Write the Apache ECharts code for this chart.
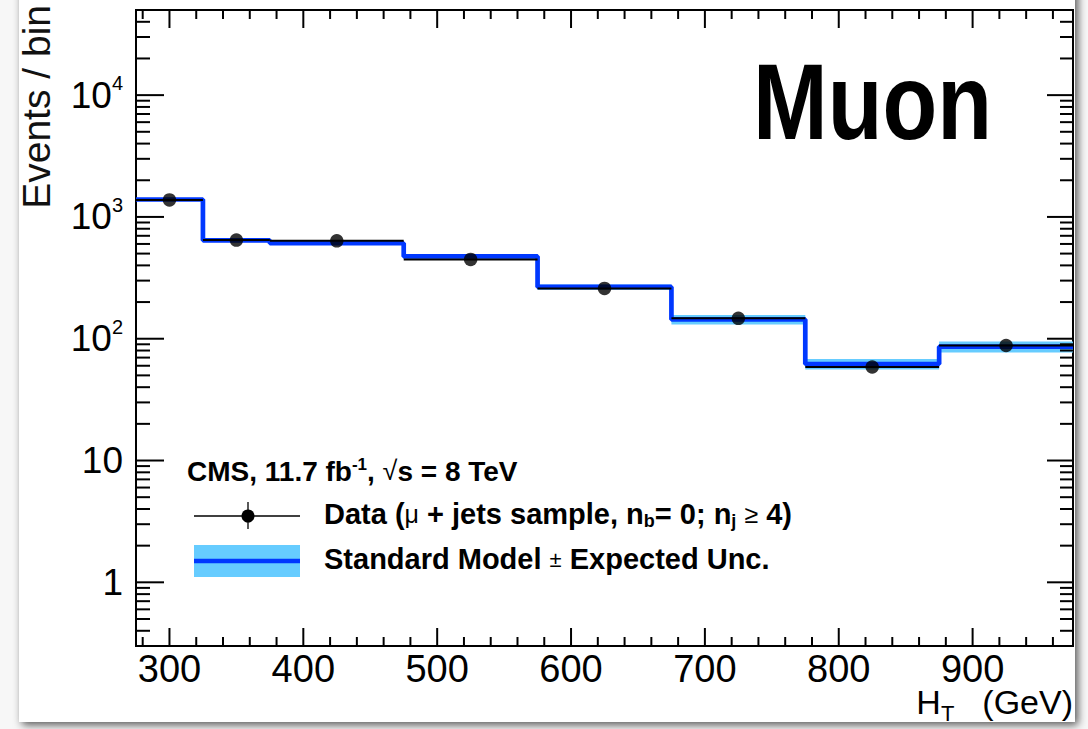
<!DOCTYPE html>
<html>
<head>
<meta charset="utf-8">
<script src="https://cdn.jsdelivr.net/npm/echarts@6/dist/echarts.min.js"></script>
<style>
  html, body { margin: 0; padding: 0; background: #f7f7f7; }
  #chart { width: 1088px; height: 729px; }
</style>
</head>
<body>
<div id="chart"></div>
<script>
// H_T bin edges (GeV) and bin centres
const binEdges = [275, 325, 375, 475, 575, 675, 775, 875, 975];
const binCenters = [300, 350, 425, 525, 625, 725, 825, 925];
// observed events per bin (mu + jets sample, n_b = 0, n_j >= 4)
const dataEvents = [1380, 645, 637, 448, 259, 147, 58.6, 88];
// Standard Model expectation per bin
const smExpected = [1390, 642, 608, 474, 266, 144, 62, 86];
// relative expected uncertainty per bin
const smRelUnc = [0.03, 0.03, 0.03, 0.04, 0.05, 0.09, 0.10, 0.105];
// axis tick labels
const xTickValues = [300, 400, 500, 600, 700, 800, 900];
const yTickValues = [1, 10, 100, 1000, 10000];
const yTickLabels = ['1', '10', '10{sup|2}', '10{sup|3}', '10{sup|4}'];

const X_MIN = 275, X_MAX = 975;
const Y_MIN = 0.3, Y_MAX = 50000;
const FONT = '"Liberation Sans", Arial, Helvetica, sans-serif';
const BLUE = '#0038ff';
const BAND = '#66ccff';

// tick positions on both axes (ticks are mirrored on the opposite sides)
const xMinor = [];
for (let v = 280; v <= 960; v += 20) if (v % 100 !== 0) xMinor.push(v);
const yMinor = [];
[0.1, 1, 10, 100, 1000, 10000].forEach(d => {
  for (let k = 2; k <= 9; k++) {
    const v = k * d;
    if (v > Y_MIN * 1.0001 && v < Y_MAX * 0.9999) yMinor.push(v);
  }
});

const chart = echarts.init(document.getElementById('chart'), null, { renderer: 'svg' });

function seg(x1, y1, x2, y2, w) {
  return { type: 'line', shape: { x1, y1, x2, y2 }, style: { stroke: '#000', lineWidth: w || 2 } };
}

const option = {
  backgroundColor: '#f7f7f7',
  animation: false,
  grid: {
    left: 136, top: 10, width: 937, height: 636,
    show: true, borderColor: '#000', borderWidth: 2, backgroundColor: 'transparent'
  },
  xAxis: {
    type: 'value', min: X_MIN, max: X_MAX, interval: 25,
    axisLine: { show: false }, axisTick: { show: false }, splitLine: { show: false },
    axisLabel: {
      margin: 9, fontSize: 38, lineHeight: 28, color: '#000', fontFamily: FONT,
      formatter: v => (xTickValues.indexOf(Math.round(v)) >= 0 ? String(Math.round(v)) : '')
    }
  },
  yAxis: {
    type: 'log', logBase: 10, min: Y_MIN, max: Y_MAX,
    axisLine: { show: false }, axisTick: { show: false }, splitLine: { show: false },
    axisLabel: {
      margin: 13, fontSize: 37, lineHeight: 44, color: '#000', fontFamily: FONT,
      showMinLabel: false, showMaxLabel: false,
      formatter: v => {
        const i = yTickValues.findIndex(t => Math.abs(t - v) < 1e-6 * t);
        return i < 0 ? '' : yTickLabels[i];
      },
      rich: {
        sup: { fontSize: 20, lineHeight: 18, verticalAlign: 'top', color: '#000', fontFamily: FONT }
      }
    }
  },
  series: [
    {
      // expected-uncertainty band per bin
      type: 'custom', name: 'band', z: 2, silent: true,
      data: binCenters.map((c, i) => [binEdges[i], binEdges[i + 1], smExpected[i], smRelUnc[i]]),
      encode: { x: [0, 1], y: 2 },
      renderItem(params, api) {
        const lo = api.value(0), hi = api.value(1), c = api.value(2), u = api.value(3);
        const p1 = api.coord([lo, c * (1 + u)]);
        const p2 = api.coord([hi, c * (1 - u)]);
        return {
          type: 'rect',
          shape: { x: p1[0], y: p1[1], width: p2[0] - p1[0], height: p2[1] - p1[1] },
          style: { fill: BAND }
        };
      }
    },
    {
      // Standard Model histogram
      type: 'line', name: 'Standard Model', z: 3, silent: true,
      step: 'end', showSymbol: false, symbol: 'none',
      data: binEdges.map((e, i) => [e, smExpected[Math.min(i, smExpected.length - 1)]]),
      lineStyle: { color: BLUE, width: 4.7 }
    },
    {
      // data: horizontal bars spanning each bin
      type: 'custom', name: 'data-xerr', z: 4, silent: true,
      data: binCenters.map((c, i) => [binEdges[i], binEdges[i + 1], dataEvents[i]]),
      encode: { x: [0, 1], y: 2 },
      renderItem(params, api) {
        const p1 = api.coord([api.value(0), api.value(2)]);
        const p2 = api.coord([api.value(1), api.value(2)]);
        return seg(p1[0], p1[1], p2[0], p2[1], 2);
      }
    },
    {
      type: 'scatter', name: 'Data', z: 6, silent: true,
      symbol: 'circle', symbolSize: 13.5,
      itemStyle: { color: '#000' },
      data: binCenters.map((c, i) => [c, dataEvents[i]])
    },
    {
      // axis ticks on all four sides of the frame
      type: 'custom', name: 'ticks', z: 7, silent: true, clip: false,
      data: [[X_MIN, 1]],
      renderItem(params, api) {
        const kids = [];
        const yBot = api.coord([X_MIN, Y_MIN])[1];
        const yTop = api.coord([X_MIN, Y_MAX])[1];
        const xL = api.coord([X_MIN, 1])[0];
        const xR = api.coord([X_MAX, 1])[0];
        const xt = (v, len) => {
          const x = api.coord([v, 1])[0];
          kids.push(seg(x, yBot, x, yBot - len), seg(x, yTop, x, yTop + len));
        };
        const yt = (v, lenL, lenR) => {
          const y = api.coord([X_MIN, v])[1];
          kids.push(seg(xL, y, xL + lenL, y), seg(xR, y, xR - lenR, y));
        };
        xTickValues.forEach(v => xt(v, 18));
        xMinor.forEach(v => xt(v, 9));
        yTickValues.forEach(v => yt(v, 28, 26));
        yMinor.forEach(v => yt(v, 14, 13));
        return { type: 'group', children: kids };
      }
    }
  ],
  graphic: [
    {
      // page card with drop shadow
      type: 'rect', z: -10, silent: true,
      shape: { x: 19, y: -20, width: 1056, height: 742 },
      style: { fill: '#fff', shadowBlur: 8, shadowColor: 'rgba(0,0,0,0.65)', shadowOffsetX: 3, shadowOffsetY: 3 }
    },
    {
      type: 'text', z: 20, silent: true,
      x: 36, y: 5, rotation: Math.PI / 2,
      style: { text: 'Events / bin', fontSize: 39, fontFamily: FONT, fill: '#111', align: 'right', verticalAlign: 'middle' }
    },
    {
      type: 'text', z: 20, silent: true,
      x: 1073, y: 685,
      style: {
        text: '{m|H}{sub|T}{m|(GeV)}', align: 'right', verticalAlign: 'top',
        rich: {
          m: { fontSize: 34, fontFamily: FONT, fill: '#000', lineHeight: 25, verticalAlign: 'top' },
          sub: { fontSize: 22, fontFamily: FONT, fill: '#000', lineHeight: 22, padding: [17, 28, 0, 0], verticalAlign: 'top' }
        }
      }
    },
    {
      type: 'text', z: 20, silent: true,
      x: 753, y: 101, scaleX: 0.83,
      style: {
        text: 'Muon', fontSize: 108, fontWeight: 'bold', fontFamily: FONT,
        fill: '#000', align: 'left', verticalAlign: 'middle'
      }
    },
    {
      type: 'text', z: 20, silent: true,
      x: 187, y: 471,
      style: {
        text: 'CMS, 11.7 fb{sup|-1}, {rad|√}s = 8 TeV', fontSize: 28, fontWeight: 'bold', fontFamily: FONT,
        fill: '#000', align: 'left', verticalAlign: 'middle', lineHeight: 30,
        rich: {
          sup: { fontSize: 17, fontWeight: 'bold', fontFamily: FONT, fill: '#000', lineHeight: 16, verticalAlign: 'top' },
          rad: { fontSize: 27, fontWeight: 'normal', fontFamily: FONT, fill: '#000', lineHeight: 30 }
        }
      }
    },
    // legend: data entry
    { type: 'line', z: 20, silent: true, shape: { x1: 194, y1: 516, x2: 300, y2: 516 }, style: { stroke: '#000', lineWidth: 1.3 } },
    { type: 'line', z: 20, silent: true, shape: { x1: 248, y1: 502, x2: 248, y2: 529 }, style: { stroke: '#000', lineWidth: 1.3 } },
    { type: 'circle', z: 21, silent: true, shape: { cx: 248, cy: 516, r: 6.5 }, style: { fill: '#000' } },
    {
      type: 'text', z: 20, silent: true,
      x: 324, y: 514,
      style: {
        text: 'Data ({sym|μ} + jets sample, n{sub|b}= 0; n{sub|j} {sym|≥} 4)', fontSize: 29, fontWeight: 'bold', fontFamily: FONT,
        fill: '#000', align: 'left', verticalAlign: 'middle', lineHeight: 32,
        rich: {
          sym: { fontSize: 25, fontWeight: 'normal', fontFamily: FONT, fill: '#000', lineHeight: 32 },
          sub: { fontSize: 18, fontWeight: 'bold', fontFamily: FONT, fill: '#000', lineHeight: 18, padding: [14, 0, 0, 0], verticalAlign: 'bottom' }
        }
      }
    },
    // legend: Standard Model entry
    { type: 'rect', z: 20, silent: true, shape: { x: 194, y: 545, width: 106, height: 32 }, style: { fill: BAND } },
    { type: 'line', z: 21, silent: true, shape: { x1: 194, y1: 561, x2: 300, y2: 561 }, style: { stroke: BLUE, lineWidth: 4.5 } },
    {
      type: 'text', z: 20, silent: true,
      x: 324, y: 559,
      style: {
        text: 'Standard Model {sym|±} Expected Unc.', fontSize: 29, fontWeight: 'bold', fontFamily: FONT,
        fill: '#000', align: 'left', verticalAlign: 'middle', lineHeight: 32,
        rich: { sym: { fontSize: 22, fontWeight: 'normal', fontFamily: FONT, fill: '#000', lineHeight: 32 } }
      }
    }
  ]
};

chart.setOption(option);
</script>
</body>
</html>
